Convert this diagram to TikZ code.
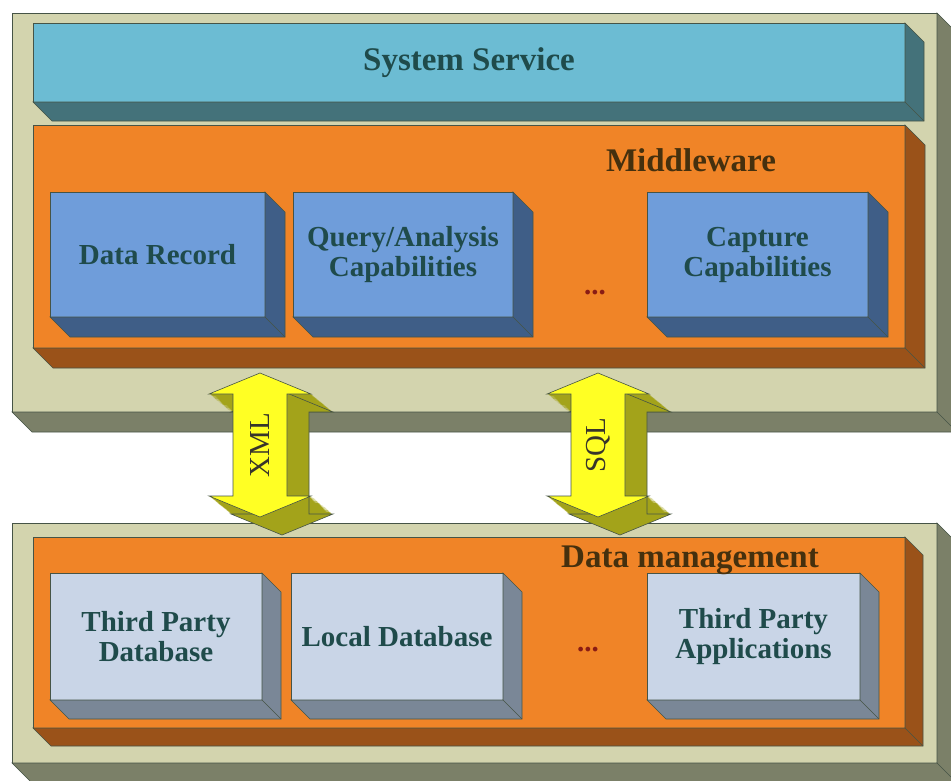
\documentclass[tikz,border=0pt]{standalone}
\usepackage{fontspec}
\setmainfont{Liberation Serif}

\definecolor{beigefront}{HTML}{D3D4AE}
\definecolor{beigeside}{HTML}{7B8068}
\definecolor{barfront}{HTML}{6CBCD3}
\definecolor{barside}{HTML}{44727A}
\definecolor{orangefront}{HTML}{F08427}
\definecolor{orangeside}{HTML}{9A5219}
\definecolor{bluefront}{HTML}{6F9DDA}
\definecolor{blueside}{HTML}{3F5E87}
\definecolor{lightfront}{HTML}{C9D5E7}
\definecolor{lightside}{HTML}{7A8797}
\definecolor{arrowfront}{HTML}{FFFF24}
\definecolor{arrowside}{HTML}{A3A31A}
\definecolor{edge}{HTML}{465446}
\definecolor{boxtext}{HTML}{1F4B4B}
\definecolor{headtext}{HTML}{45300E}
\definecolor{dots}{HTML}{8A1C14}

\newcommand{\boxfont}{\fontsize{29}{30}\selectfont\bfseries}
\newcommand{\headfont}{\fontsize{33}{34}\selectfont\bfseries}
\newcommand{\arrowfont}{\fontsize{29}{30}\selectfont}

% side and bottom faces of a block
\newcommand{\slab}[3]{%
  \filldraw[fill=#2, draw=edge, line width=0.6pt] (#1.north east) -- ++(#3,#3)
    -- ([shift={(#3,#3)}]#1.south east) -- ([shift={(#3,#3)}]#1.south west)
    -- (#1.south west) -- (#1.south east) -- cycle;
  \draw[edge, line width=0.6pt] (#1.south east) -- ++(#3,#3);}

% outline of the double arrow
\newcommand{\arrowshape}{(0,-72) -- (51,-51) -- (27,-51) -- (27,51) -- (51,51) -- (0,72)
  -- (-51,51) -- (-27,51) -- (-27,-51) -- (-51,-51) -- cycle}

\newcommand{\bigarrow}[3]{%
  \begin{scope}[shift={#2}]
    \foreach \k in {1,...,20}
      \fill[arrowside, shift={(1.1*\k,0.9*\k)}] \arrowshape;
    \draw[edge, line width=0.6pt, shift={(22,18)}] \arrowshape;
    \filldraw[fill=arrowfront, draw=edge, line width=0.6pt] \arrowshape;
    \node[rotate=90, font=\arrowfont, text=black!80!olive] (#1) at (0,0) {#3};
  \end{scope}}

\tikzset{
  block/.style={draw=edge, line width=0.6pt, inner sep=0pt, outer sep=0pt},
  darkbox/.style={block, fill=bluefront, minimum height=125pt, align=center,
    text=boxtext, font=\boxfont},
  lightbox/.style={block, fill=lightfront, minimum height=127pt, align=center,
    text=boxtext, font=\boxfont},
  heading/.style={font=\headfont, text=headtext}
}

\begin{document}
\begin{tikzpicture}[x=1pt, y=-1pt]
\useasboundingbox (0,0) rectangle (951,780);
%upper frame
\node[block, fill=beigefront, minimum width=925pt, minimum height=399pt] (upper) at (474.5,212.5) {};
\slab{upper}{beigeside}{20}
\node[block, fill=barfront, minimum width=872pt, minimum height=79pt, font=\headfont, text=boxtext] (service) at (469,62.5) {System Service};
\slab{service}{barside}{19}
%middleware
\node[block, fill=orangefront, minimum width=872pt, minimum height=223pt] (mw) at (469,236.5) {};
\slab{mw}{orangeside}{20}
\node[heading] (mwlabel) at (691,160) {Middleware};
\node[darkbox, minimum width=215pt] (record) at (157.5,254.5) {Data Record};
\slab{record}{blueside}{20}
\node[darkbox, minimum width=220pt] (query) at (403,254.5) {Query/Analysis\\Capabilities};
\slab{query}{blueside}{20}
\node[darkbox, minimum width=221pt] (capture) at (757.5,254.5) {Capture\\Capabilities};
\slab{capture}{blueside}{20}
\node[font=\boxfont, text=dots] (mwdots) at (595,293) {...};
%lower frame
\node[block, fill=beigefront, minimum width=925pt, minimum height=240pt] (lower) at (474.5,643) {};
\slab{lower}{beigeside}{20}
\node[block, fill=orangefront, minimum width=872pt, minimum height=191pt] (dm) at (469,632.5) {};
\slab{dm}{orangeside}{18}
\node[lightbox, minimum width=212pt] (tpdb) at (156,636.5) {Third Party\\Database};
\slab{tpdb}{lightside}{19}
\node[lightbox, minimum width=212pt] (localdb) at (397,636.5) {Local Database};
\slab{localdb}{lightside}{19}
\node[lightbox, minimum width=213pt] (tpapp) at (753.5,636.5) {Third Party\\Applications};
\slab{tpapp}{lightside}{19}
\node[heading] (dmlabel) at (690,560) {Data management};
\node[font=\boxfont, text=dots] (dmdots) at (588,650) {...};
%arrows between the layers
\bigarrow{xml}{(260,445)}{XML}
\bigarrow{sql}{(598,445)}{SQL}
\end{tikzpicture}
\end{document}
